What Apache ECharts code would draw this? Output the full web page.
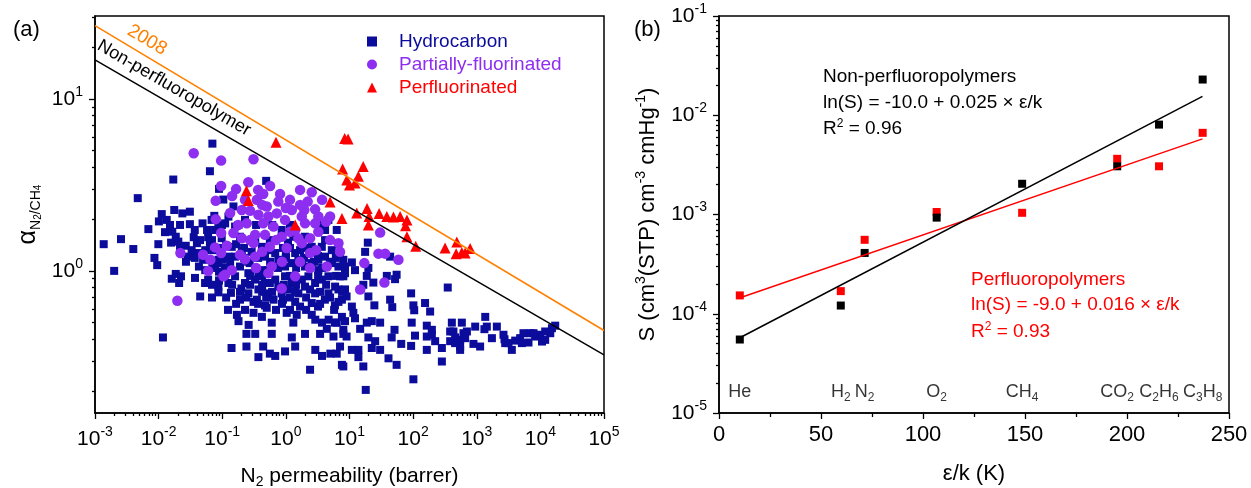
<!DOCTYPE html>
<html><head><meta charset="utf-8">
<script src="https://cdn.jsdelivr.net/npm/echarts@6/dist/echarts.min.js"></script>
<style>html,body{margin:0;padding:0;background:#fff}#c{width:1251px;height:488px}</style>
</head><body><div id="c"></div>
<script>
const FONT = '"Liberation Sans", Arial, Helvetica, sans-serif';
const BLUE = '#0b0b9c', PURPLE = '#8d2ef0', RED = '#ff0000', ORANGE = '#ff8000';

// ---------- (a) data: [N2 permeability (barrer), N2/CH4 selectivity] ----------
const hydrocarbon = [
[0.070,5.5],[0.064,3.8],[0.017,3.4],[0.0047,2.65],[0.089,3.0],[0.104,2.6],[0.49,3.34],
[0.0112,2.14],[0.0176,2.26],[0.0236,2.16],[0.031,2.21],[0.0101,1.94],[0.0134,1.98],[0.0151,1.85],[0.0069,1.75],[0.0164,1.69],[0.031,1.87],[0.037,1.73],[0.049,1.89],[0.068,1.98],[0.075,2.09],[0.087,1.81],
[0.0186,1.58],[0.0204,1.48],[0.0157,1.46],[0.0099,1.43],[0.0217,1.34],[0.0267,1.40],[0.0356,1.57],[0.040,1.45],[0.033,1.32],[0.0287,1.21],[0.060,1.57],[0.064,1.42],[0.042,1.27],[0.037,1.19],[0.050,1.16],[0.043,1.06],[0.070,1.11],[0.085,1.11],[0.089,0.99],[0.100,1.16],[0.089,0.88],
[0.00137,1.43],[0.00256,1.53],[0.0040,1.34],[0.0086,1.19],[0.0095,1.08],[0.0020,1.0],[0.0186,0.96],[0.0161,0.90],[0.0225,0.93],[0.021,0.85],[0.087,0.75],[0.045,0.71],[0.0117,0.41],
[0.125,0.85],[0.19,0.68],[0.20,0.79],[0.31,0.66],[0.47,0.63],[0.64,0.68],[0.86,0.74],[1.4,0.66],[1.67,0.62],[2.55,0.65],[3.2,0.62],[4.1,0.68],[5.9,0.63],[7.6,0.68],
[0.17,0.555],[0.18,0.51],[0.26,0.485],[0.31,0.57],[0.42,0.54],[0.50,0.61],[0.60,0.50],[1.03,0.57],[1.31,0.50],[1.48,0.555],[2.55,0.555],[2.9,0.52],[3.7,0.50],[4.7,0.52],[5.9,0.50],[7.6,0.54],
[0.24,0.43],[0.33,0.43],[0.60,0.43],[1.24,0.41],[2.0,0.43],[3.45,0.43],[4.4,0.46],[5.6,0.415],[8.0,0.43],
[0.14,0.356],[0.24,0.363],[0.44,0.363],[0.56,0.33],[0.68,0.32],[0.97,0.34],[1.4,0.363],[2.9,0.347],[3.7,0.32],[5.0,0.33],[6.3,0.33],[7.6,0.284],[0.37,0.315],[2.4,0.266],
[0.077,1.73],[0.111,1.89],[0.159,1.81],[0.098,1.55],[0.141,1.38],[0.203,1.29],[0.087,1.16],[0.133,1.11],[0.19,1.06],[0.257,0.97],[0.37,0.93],[0.53,1.01],[0.76,1.16],[0.97,1.06],[1.24,1.11],[1.57,1.16],[2.0,1.06],[2.55,1.11],[3.24,1.16],[4.13,1.21],[5.3,1.11],[6.7,1.06],[8.0,1.16],
[0.098,0.93],[0.159,0.93],[0.228,0.85],[0.328,0.89],[0.47,0.85],[0.68,0.89],[0.97,0.93],[1.24,0.85],[1.78,0.89],[2.26,0.93],[2.88,0.85],[3.67,0.89],[4.66,0.93],[5.94,0.81],[8.0,0.93],
[0.087,0.81],[0.257,0.74],[0.37,0.78],[0.53,0.74],[0.76,0.81],[1.09,0.78],[1.57,0.74],[2.0,0.81],[2.88,0.74],[4.66,0.74],[6.7,0.78],
[3.67,1.38],[4.13,1.51],[5.27,1.32],[2.55,1.38],[1.40,1.27],[0.68,1.27],[0.47,1.21],[0.29,1.29],[0.159,1.21],[0.42,1.38],[0.86,1.73],[1.31,1.58],[2.0,1.58],[0.15,2.37],[0.125,2.07],[0.228,1.98],[4.13,1.73],[6.3,1.73],[4.66,1.98],
[0.060,0.89],[0.054,1.01],[0.115,1.40],[0.27,1.11],[0.56,0.85],[0.90,0.68],[0.35,0.68],[0.137,0.745],[0.42,1.01],[1.08,1.46],[1.67,1.32],[3.24,1.01],[6.7,1.44],[8.5,0.78],[2.4,0.78],[0.19,1.58],[0.33,1.51],[0.56,1.51],[0.125,1.21],[0.90,1.36],[0.069,1.51],[0.054,1.32],
[0.114,1.19],[0.22,1.19],[0.366,1.19],[1.0,1.19],[1.93,1.19],[6.1,1.19],
[0.077,1.04],[0.11,1.04],[0.33,1.04],[0.75,1.04],[1.45,1.04],[3.71,1.04],[8.5,0.97],
[0.069,0.83],[0.143,0.83],[0.274,0.83],[0.423,0.83],[0.93,0.83],[1.45,0.83],[4.29,0.83],
[0.069,0.70],[0.115,0.70],[0.237,0.70],[0.49,0.70],[1.16,0.70],[2.08,0.70],[4.95,0.70],
[0.123,0.593],[0.228,0.593],[0.70,0.593],[1.16,0.593],[2.08,0.593],[5.73,0.593],
[0.0126,1.68],[0.0217,1.85],[0.0448,1.51],[0.0577,1.73],[0.0269,1.13],[0.0537,0.85],[0.0373,0.91],[0.0717,1.32],
[0.099,1.85],[0.18,1.85],[0.34,1.85],[0.61,1.85],[1.16,1.85],[3.45,1.85],
[0.092,1.36],[0.165,1.43],[0.525,1.32],[1.0,1.22],[3.2,1.22],[7.1,1.24],
[0.255,1.13],[0.565,1.13],[1.80,1.13],[2.77,1.13],[4.95,1.13],
[0.274,0.935],[0.423,0.935],[1.16,0.935],[3.21,0.935],[6.15,0.935],
[0.19,0.755],[0.423,0.755],[0.607,0.755],[1.40,0.755],[3.45,0.755],[7.65,0.755],
[0.165,0.643],[0.366,0.643],[0.87,0.643],[3.45,0.643],
[0.22,1.36],[0.423,1.36],[1.16,1.36],[2.08,1.36],
[19.4,1.46],[17.6,1.29],[10.9,1.12],[8.5,1.06],[7.1,0.93],[12.2,1.01],[19.8,1.04],[18.7,0.935],[23.7,0.855],[38.6,0.935],[55,0.95],[52,0.895],[43.5,1.21],[16.5,0.83],[19.8,0.71],[9.0,0.71],[6.7,0.66],[10.9,0.62],[11.5,0.57],[12.2,0.53],[24.6,0.63],[43.5,0.68],[47,0.615],[93,0.74],[101,0.63],[104,0.59],[154,0.65],[185,0.58],[350,0.80],
[6.3,0.50],[8.5,0.51],[8.0,0.454],[9.0,0.415],[14.7,0.46],[18.7,0.50],[22.4,0.51],[30.3,0.50],[19.8,0.41],[25.3,0.39],[51,0.454],[46,0.41],[65,0.376],[95,0.50],[107,0.42],[93,0.366],[164,0.48],[197,0.425],[164,0.347],[222,0.39],[283,0.356],[406,0.50],[430,0.444],[382,0.39],[548,0.363],[583,0.50],[618,0.434],
[7.1,0.363],[10.9,0.347],[13.8,0.347],[13.8,0.315],[22.4,0.356],[30.3,0.347],[41,0.31],[55,0.284],[8.0,0.278],[16.5,0.278],[283,0.297],[101,0.234],[18.0,0.203],
[1360,0.54],[2070,0.474],[945,0.474],[1320,0.458],[457,0.41],[548,0.397],[657,0.406],[887,0.376],[1130,0.363],[1730,0.406],[2730,0.40],[2800,0.38],[3560,0.347],[4020,0.393],[4810,0.406],[5420,0.434],[6920,0.434],[8280,0.415],[9900,0.425],[11900,0.397],[11900,0.444],[15200,0.464],[17100,0.48],[548,0.347],[5120,0.38],[6500,0.383],[10600,0.388],[382,0.444],[700,0.444],[457,0.38],[164,0.415],[197,0.454],[1440,0.474],[3150,0.38],[14300,0.434],[2630,0.425],[7800,0.434]
];
const partiallyFluorinated = [
[0.0356,4.83],[0.096,4.38],[0.096,3.12],[0.079,2.56],[0.079,2.0],[0.096,1.66],[0.077,1.37],[0.050,1.24],[0.065,1.16],[0.060,1.0],[0.096,1.27],[0.022,1.27],[0.0197,0.67],[0.104,0.93],
[0.31,4.46],[0.257,3.28],[0.165,2.99],[0.44,2.80],[0.81,2.80],[2.55,2.87],[0.35,2.59],[2.2,2.53],[0.203,2.26],[0.274,2.24],[0.50,2.37],[0.76,2.53],[1.24,2.26],[1.95,2.26],[2.88,2.28],[0.37,2.12],[0.53,2.07],[0.72,2.16],[0.97,1.98],[1.78,2.07],[3.24,2.07],[4.95,2.07],[0.243,1.89],[0.44,1.89],[0.64,1.81],[1.40,1.73],[2.0,1.89],[2.88,1.89],[0.150,1.66],[0.203,1.55],[0.328,1.62],[0.47,1.62],[0.86,1.58],[1.57,1.55],[3.24,1.69],[0.118,1.40],[0.31,1.45],[0.56,1.38],[1.03,1.36],[1.78,1.45],[0.228,1.17],[0.328,1.21],[0.60,1.06],[2.4,1.27],[6.7,1.45],[7.1,1.29],[4.4,1.06],[0.141,1.01],[0.53,0.97],[1.40,0.93],[0.86,0.79],[0.111,0.95],
[0.143,2.73],[0.366,2.96],[0.565,3.12],[1.16,2.59],[1.67,2.96],[3.71,2.59],[0.177,1.85],[0.274,1.51],[0.423,1.29],[0.70,1.51],[1.16,1.69],[2.4,1.55],[4.29,1.93],[0.19,1.24],[0.87,1.13],[2.4,1.04],[0.133,2.17],[1.0,2.32],[1.67,2.42],[0.423,2.42],[0.228,2.59],[2.99,1.32],[4.95,1.51],[0.34,1.04],[1.67,1.13],
[30.3,1.67],[28.5,1.26],[36.3,1.26],[58.7,1.16],[17.1,1.11],[35.4,0.855],[14.7,0.78]
];
const perfluorinated = [
[0.70,5.6],[0.24,2.93],[0.257,2.57],[1.40,1.85],[4.95,2.52],[7.6,2.02],[8.4,5.9],[9.5,5.85],[16.4,4.05],[7.8,3.92],[13.8,3.55],[9.05,3.38],[10.0,3.16],[12.2,3.25],[13.0,2.17],[18.9,2.31],[20.3,2.07],[19.8,1.85],[29.2,2.16],[38.6,2.07],[49,2.06],[62.5,2.07],[80,1.98],[76,1.83],[80,1.58],[110,1.39],[318,1.36],[486,1.47],[474,1.26],[583,1.28],[657,1.27],[787,1.35]
];
const upperBound2008 = [[1e-3, 26.7], [1e5, 0.45]];
const nonPerfluoroBound = [[1e-3, 16.9], [1e5, 0.325]];
const permRange = [1e-3, 1e5];
const alphaRange = [0.149, 30.4];
const seriesNames = ['Hydrocarbon', 'Partially-fluorinated', 'Perfluorinated'];

// ---------- (b) data ----------
const gasLabels = ['He', 'H{sub|2}', 'N{sub|2}', 'O{sub|2}', 'CH{sub|4}', 'CO{sub|2}', 'C{sub|2}H{sub|6}', 'C{sub|3}H{sub|8}'];
const gasEpsK = [10.2, 59.7, 71.4, 106.7, 148.6, 195.2, 215.7, 237.1];
const nonPerfluoroS = [5.5e-5, 1.21e-4, 4.1e-4, 9.3e-4, 2.04e-3, 3.06e-3, 8.05e-3, 2.29e-2];
const perfluoroS = [1.53e-4, 1.69e-4, 5.56e-4, 1.06e-3, 1.04e-3, 3.64e-3, 3.06e-3, 6.65e-3];
const nonPerfluoroFit = [[10, 5.7e-5], [237, 0.0155]];
const perfluoroFit = [[10, 1.44e-4], [237, 5.78e-3]];
const epsRange = [0, 250];
const sRange = [1e-5, 1e-1];

// ---------- helpers ----------
const lg = Math.log10;
const toLog = arr => arr.map(([x, y]) => [lg(x), lg(y)]);
function minorLog(lo, hi) {
  const out = [];
  for (let n = Math.floor(lo) - 1; n <= Math.ceil(hi); n++)
    for (let k = 2; k <= 9; k++) { const v = n + lg(k); if (v > lo + 1e-9 && v < hi - 1e-9) out.push(v); }
  return out;
}
const tickRich = {
  b: { fontSize: 21, lineHeight: 28, fontFamily: FONT, color: '#000' },
  s: { fontSize: 14, lineHeight: 14, verticalAlign: 'top', fontFamily: FONT, color: '#000' }
};
const pow10 = v => '{b|10}{s|' + Math.round(v) + '}';
const lineBlack = { color: '#000', width: 1.5 };
const tickStyle = { color: '#000', width: 1.3 };

const xL = [lg(permRange[0]), lg(permRange[1])];
const yL = [lg(alphaRange[0]), lg(alphaRange[1])];
const yR = [lg(sRange[0]), lg(sRange[1])];

const chart = echarts.init(document.getElementById('c'), null, { renderer: 'canvas' });
const option = {
  animation: false,
  backgroundColor: '#fff',
  textStyle: { fontFamily: FONT },
  grid: [
    { left: 95, top: 16, width: 509, height: 397, show: true, borderColor: '#000', borderWidth: 1.5, containLabel: false, outerBoundsMode: 'none' },
    { left: 719, top: 16, width: 510, height: 397, show: true, borderColor: '#000', borderWidth: 1.5, containLabel: false, outerBoundsMode: 'none' }
  ],
  legend: {
    orient: 'vertical', left: 367, top: 32, padding: 0, itemWidth: 10, itemHeight: 10, itemGap: 4,
    selectedMode: false,
    textStyle: { fontSize: 19, fontFamily: FONT, padding: [0, 0, 0, 17] },
    data: seriesNames.map((n, i) => ({ name: n, textStyle: { color: [BLUE, PURPLE, RED][i] } }))
  },
  xAxis: [
    { gridIndex: 0, type: 'value', min: xL[0], max: xL[1], interval: 1, position: 'bottom',
      axisLine: { onZero: false, lineStyle: lineBlack },
      axisTick: { length: 6, lineStyle: tickStyle },
      axisLabel: { margin: 12, formatter: pow10, rich: tickRich },
      splitLine: { show: false },
      name: '{b|N}{s|2}{b| permeability (barrer)}', nameLocation: 'middle', nameGap: 50,
      nameTextStyle: { rich: {
        b: { fontSize: 21, lineHeight: 26, fontFamily: FONT, color: '#000' },
        s: { fontSize: 14, lineHeight: 12, verticalAlign: 'bottom', fontFamily: FONT, color: '#000' } } } },
    { gridIndex: 0, type: 'value', min: xL[0], max: xL[1], position: 'bottom',
      axisLine: { show: false, onZero: false }, axisLabel: { show: false }, splitLine: { show: false },
      axisTick: { customValues: minorLog(xL[0], xL[1]), length: 3, lineStyle: tickStyle } },
    { gridIndex: 1, type: 'value', min: epsRange[0], max: epsRange[1], interval: 50, position: 'bottom',
      axisLine: { onZero: false, lineStyle: lineBlack },
      axisTick: { length: 6, lineStyle: tickStyle },
      minorTick: { show: true, splitNumber: 2, length: 4, lineStyle: tickStyle },
      axisLabel: { margin: 11, fontSize: 22, color: '#000', fontFamily: FONT },
      splitLine: { show: false }, minorSplitLine: { show: false },
      name: 'ε/k (K)', nameLocation: 'middle', nameGap: 50,
      nameTextStyle: { fontSize: 22, color: '#000', fontFamily: FONT } }
  ],
  yAxis: [
    { gridIndex: 0, type: 'value', min: yL[0], max: yL[1], position: 'left',
      axisLine: { onZero: false, lineStyle: lineBlack },
      axisTick: { customValues: [0, 1], length: 6, lineStyle: tickStyle },
      axisLabel: { customValues: [0, 1], margin: 12, formatter: pow10, rich: tickRich },
      splitLine: { show: false },
      name: '{a|α}{s|N}{ss|2}{s|/CH}{ss|4}', nameLocation: 'middle', nameRotate: 90, nameGap: 52,
      nameTextStyle: { rich: {
        a: { fontSize: 25, lineHeight: 30, fontFamily: FONT, color: '#000' },
        s: { fontSize: 14, lineHeight: 22, verticalAlign: 'bottom', fontFamily: FONT, color: '#000' },
        ss: { fontSize: 10, lineHeight: 14, verticalAlign: 'bottom', fontFamily: FONT, color: '#000' } } } },
    { gridIndex: 0, type: 'value', min: yL[0], max: yL[1], position: 'left',
      axisLine: { show: false, onZero: false }, axisLabel: { show: false }, splitLine: { show: false },
      axisTick: { customValues: minorLog(yL[0], yL[1]), length: 3, lineStyle: tickStyle } },
    { gridIndex: 1, type: 'value', min: yR[0], max: yR[1], interval: 1, position: 'left',
      axisLine: { onZero: false, lineStyle: lineBlack },
      axisTick: { length: 6, lineStyle: tickStyle },
      axisLabel: { margin: 12, formatter: pow10, rich: tickRich },
      splitLine: { show: false },
      name: '{b|S (cm}{p|3}{b|(STP) cm}{p|-3}{b| cmHg}{p|-1}{b|)}', nameLocation: 'middle', nameRotate: 90, nameGap: 57,
      nameTextStyle: { rich: {
        b: { fontSize: 22, lineHeight: 28, fontFamily: FONT, color: '#000' },
        p: { fontSize: 14, lineHeight: 14, verticalAlign: 'top', fontFamily: FONT, color: '#000' } } } },
    { gridIndex: 1, type: 'value', min: yR[0], max: yR[1], position: 'left',
      axisLine: { show: false, onZero: false }, axisLabel: { show: false }, splitLine: { show: false },
      axisTick: { customValues: minorLog(yR[0], yR[1]), length: 3, lineStyle: tickStyle } }
  ],
  series: [
    { type: 'line', name: '2008', xAxisIndex: 0, yAxisIndex: 0, data: toLog(upperBound2008),
      showSymbol: false, silent: true, lineStyle: { color: ORANGE, width: 1.6 } },
    { type: 'line', name: 'Non-perfluoropolymer bound', xAxisIndex: 0, yAxisIndex: 0, data: toLog(nonPerfluoroBound),
      showSymbol: false, silent: true, lineStyle: { color: '#000', width: 1.5 } },
    { type: 'scatter', name: seriesNames[0], xAxisIndex: 0, yAxisIndex: 0, data: toLog(hydrocarbon),
      symbol: 'rect', symbolSize: 8, itemStyle: { color: BLUE, opacity: 1 } },
    { type: 'scatter', name: seriesNames[1], xAxisIndex: 0, yAxisIndex: 0, data: toLog(partiallyFluorinated),
      symbol: 'circle', symbolSize: 10.5, itemStyle: { color: PURPLE, opacity: 1 } },
    { type: 'scatter', name: seriesNames[2], xAxisIndex: 0, yAxisIndex: 0, data: toLog(perfluorinated),
      symbol: 'triangle', symbolSize: 11, itemStyle: { color: RED, opacity: 1 } },

    { type: 'line', name: 'Perfluoro fit', xAxisIndex: 2, yAxisIndex: 2,
      data: perfluoroFit.map(([x, s]) => [x, lg(s)]), showSymbol: false, silent: true,
      lineStyle: { color: RED, width: 1.5 } },
    { type: 'line', name: 'Non-perfluoro fit', xAxisIndex: 2, yAxisIndex: 2,
      data: nonPerfluoroFit.map(([x, s]) => [x, lg(s)]), showSymbol: false, silent: true,
      lineStyle: { color: '#000', width: 1.5 } },
    { type: 'scatter', name: 'Perfluoropolymers', xAxisIndex: 2, yAxisIndex: 2,
      data: gasEpsK.map((x, i) => [x, lg(perfluoroS[i])]), symbol: 'rect', symbolSize: 8, itemStyle: { color: RED, opacity: 1 } },
    { type: 'scatter', name: 'Non-perfluoropolymers', xAxisIndex: 2, yAxisIndex: 2,
      data: gasEpsK.map((x, i) => [x, lg(nonPerfluoroS[i])]), symbol: 'rect', symbolSize: 8, itemStyle: { color: '#000', opacity: 1 } },
    { type: 'scatter', name: 'gas labels', xAxisIndex: 2, yAxisIndex: 2, silent: true,
      symbolSize: 0.1, itemStyle: { color: 'rgba(0,0,0,0)' },
      data: gasEpsK.map((x, i) => ({ value: [x, lg(1.63e-5)], label: { formatter: gasLabels[i] } })),
      label: { show: true, position: 'inside', fontSize: 18, lineHeight: 24, color: '#000', fontFamily: FONT,
        rich: { sub: { fontSize: 12, lineHeight: 12, verticalAlign: 'bottom', color: '#000', fontFamily: FONT } } } }
  ],
  graphic: [
    { type: 'text', x: 13, y: 30, style: { text: '(a)', fontSize: 22, fontFamily: FONT, fill: '#000', verticalAlign: 'middle' } },
    { type: 'text', x: 634, y: 30, style: { text: '(b)', fontSize: 22, fontFamily: FONT, fill: '#000', verticalAlign: 'middle' } },
    { type: 'text', x: 147, y: 40, rotation: -0.539, style: { text: '2008', align: 'center', verticalAlign: 'middle', fontSize: 19, fontFamily: FONT, fill: ORANGE } },
    { type: 'text', x: 174, y: 88, rotation: -0.525, style: { text: 'Non-perfluoropolymer', align: 'center', verticalAlign: 'middle', fontSize: 18, fontFamily: FONT, fill: '#000' } },
    { type: 'text', x: 823, y: 77, style: { text: 'Non-perfluoropolymers', verticalAlign: 'middle', fontSize: 19, fontFamily: FONT, fill: '#000' } },
    { type: 'text', x: 823, y: 102.5, style: { text: 'ln(S) = -10.0 + 0.025 × ε/k', verticalAlign: 'middle', fontSize: 19, fontFamily: FONT, fill: '#000' } },
    { type: 'text', x: 823, y: 128.5, style: { text: '{t|R}{p|2}{t| = 0.96}', verticalAlign: 'middle',
        rich: { t: { fontSize: 19, lineHeight: 22, fontFamily: FONT, fill: '#000' }, p: { fontSize: 12, lineHeight: 12, verticalAlign: 'top', fontFamily: FONT, fill: '#000' } } } },
    { type: 'text', x: 971, y: 280, style: { text: 'Perfluoropolymers', verticalAlign: 'middle', fontSize: 19, fontFamily: FONT, fill: RED } },
    { type: 'text', x: 971, y: 305, style: { text: 'ln(S) = -9.0 + 0.016 × ε/k', verticalAlign: 'middle', fontSize: 19, fontFamily: FONT, fill: RED } },
    { type: 'text', x: 971, y: 331.5, style: { text: '{t|R}{p|2}{t| = 0.93}', verticalAlign: 'middle',
        rich: { t: { fontSize: 19, lineHeight: 22, fontFamily: FONT, fill: RED }, p: { fontSize: 12, lineHeight: 12, verticalAlign: 'top', fontFamily: FONT, fill: RED } } } }
  ]
};
chart.setOption(option);
</script>
</body></html>
